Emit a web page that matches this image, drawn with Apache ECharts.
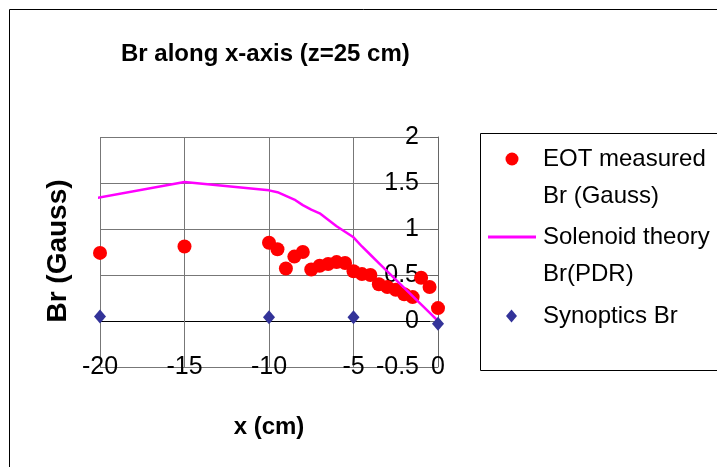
<!DOCTYPE html>
<html>
<head>
<meta charset="utf-8">
<script src="https://cdn.jsdelivr.net/npm/echarts@6/dist/echarts.min.js"></script>
<style>
html,body{margin:0;padding:0;background:#fff;}
#c{width:717px;height:467px;}
</style>
</head>
<body>
<div id="c"></div>
<script>
// ---- data ----
var eotX = [-20, -15, -10, -9.5, -9, -8.5, -8, -7.5, -7, -6.5, -6, -5.5, -5, -4.5, -4, -3.5, -3, -2.5, -2, -1.5, -1, -0.5, 0];
var eotY = [0.74, 0.81, 0.85, 0.78, 0.57, 0.70, 0.75, 0.56, 0.60, 0.62, 0.64, 0.63, 0.54, 0.51, 0.50, 0.40, 0.37, 0.34, 0.29, 0.26, 0.47, 0.37, 0.14];
var solX = [-20.4, -15, -10, -9.5, -9, -8.5, -8, -7.5, -7, -6.5, -6, -5.5, -5, -4.5, -4, -3.5, -3, -2.5, -2, -1.5, -1, -0.5, 0];
var solY = [1.33, 1.51, 1.42, 1.40, 1.36, 1.32, 1.26, 1.21, 1.17, 1.10, 1.03, 0.97, 0.91, 0.81, 0.72, 0.63, 0.54, 0.45, 0.36, 0.27, 0.18, 0.09, 0.0];
var synX = [-20, -10, -5, 0];
var synY = [0.05, 0.04, 0.04, -0.03];
var xTicks = [-20, -15, -10, -5, 0];
var yTicks = [-0.5, 0, 0.5, 1, 1.5, 2];
var seriesNames = ['EOT measured\nBr (Gauss)', 'Solenoid theory\nBr(PDR)', 'Synoptics Br'];
var titleText = 'Br along x-axis (z=25 cm)';
var xName = 'x (cm)';
var yName = 'Br (Gauss)';

function zip(a, b) { return a.map(function (v, i) { return [v, b[i]]; }); }

var FONT = "'Liberation Sans', Arial, sans-serif";
var chart = echarts.init(document.getElementById('c'));

function richFmt(name) {
  return name.split('\n').map(function (s) { return '{a|' + s + '}'; }).join('\n');
}
function legendText(pad) {
  return {
    fontFamily: FONT, fontSize: 24, color: '#000', lineHeight: 37, padding: pad,
    rich: { a: { fontFamily: FONT, fontSize: 24, color: '#000', lineHeight: 37 } }
  };
}
function mkLegend(o) {
  return Object.assign({
    orient: 'vertical', padding: 0, itemGap: 0, selectedMode: false, formatter: richFmt
  }, o);
}

chart.setOption({
  animation: false,
  backgroundColor: '#fff',
  title: {
    text: titleText, left: 116, top: 37,
    textStyle: { fontFamily: FONT, fontSize: 24, fontWeight: 'bold', color: '#000' }
  },
  graphic: [
    { type: 'rect', shape: { x: 9.5, y: 9.5, width: 730, height: 480 }, style: { fill: 'none', stroke: '#000', lineWidth: 1 }, silent: true, z: -1 },
    { type: 'rect', shape: { x: 480.5, y: 133.5, width: 260, height: 237 }, style: { fill: 'none', stroke: '#000', lineWidth: 1 }, silent: true },
    { type: 'text', x: 58, y: 251, rotation: Math.PI / 2,
      style: { text: yName, fontFamily: FONT, fontSize: 28, fontWeight: 'bold', fill: '#000', align: 'center', verticalAlign: 'middle' } }
  ],
  legend: [
    mkLegend({ left: 505.5, top: 103.5, itemWidth: 13, itemHeight: 13,
      textStyle: legendText([37, 0, 0, 19.5]),
      data: [{ name: seriesNames[0], icon: 'circle' }] }),
    mkLegend({ left: 488, top: 181.5, itemWidth: 48, itemHeight: 3,
      textStyle: legendText([37, 0, 0, 2]),
      data: [{ name: seriesNames[1], icon: 'rect', itemStyle: { color: '#ff00ff' } }] }),
    mkLegend({ left: 506, top: 297.5, itemWidth: 11, itemHeight: 13,
      textStyle: legendText([0, 0, 0, 21]),
      data: [{ name: seriesNames[2], icon: 'diamond' }] })
  ],
  grid: { left: 100, right: 279, top: 137, bottom: 100, containLabel: false },
  xAxis: {
    type: 'value', min: xTicks[0], max: xTicks[xTicks.length - 1], interval: 5,
    position: 'bottom',
    axisLine: { show: false, onZero: false },
    axisTick: { show: false },
    axisLabel: { margin: 0, verticalAlign: 'middle', fontFamily: FONT, fontSize: 25, color: '#000' },
    splitLine: { show: true, lineStyle: { color: '#777', width: 1 } },
    name: xName, nameLocation: 'middle', nameGap: 48,
    nameTextStyle: { fontFamily: FONT, fontSize: 24, fontWeight: 'bold', color: '#000' }
  },
  yAxis: {
    type: 'value', min: yTicks[0], max: yTicks[yTicks.length - 1], interval: 0.5,
    position: 'right',
    axisLine: { show: true, onZero: false, lineStyle: { color: '#666', width: 1 } },
    axisTick: { show: true, inside: true, length: 8, lineStyle: { color: '#666' } },
    axisLabel: { inside: true, margin: 19, fontFamily: FONT, fontSize: 25, color: '#000' },
    splitLine: { show: true, lineStyle: { color: ['#777', '#000', '#777', '#777', '#777', '#777'], width: 1 } }
  },
  series: [
    { name: seriesNames[0], type: 'scatter', data: zip(eotX, eotY), symbol: 'circle', symbolSize: 14,
      itemStyle: { color: '#ff0000', opacity: 1 }, clip: false, z: 2 },
    { name: seriesNames[1], type: 'line', data: zip(solX, solY), symbol: 'none', showSymbol: false,
      lineStyle: { color: '#ff00ff', width: 2.5 }, itemStyle: { color: '#ff00ff' }, clip: false, z: 3 },
    { name: seriesNames[2], type: 'scatter', data: zip(synX, synY), symbol: 'diamond', symbolSize: [12, 14],
      itemStyle: { color: '#333399', opacity: 1 }, clip: false, z: 4 }
  ]
});
</script>
</body>
</html>
